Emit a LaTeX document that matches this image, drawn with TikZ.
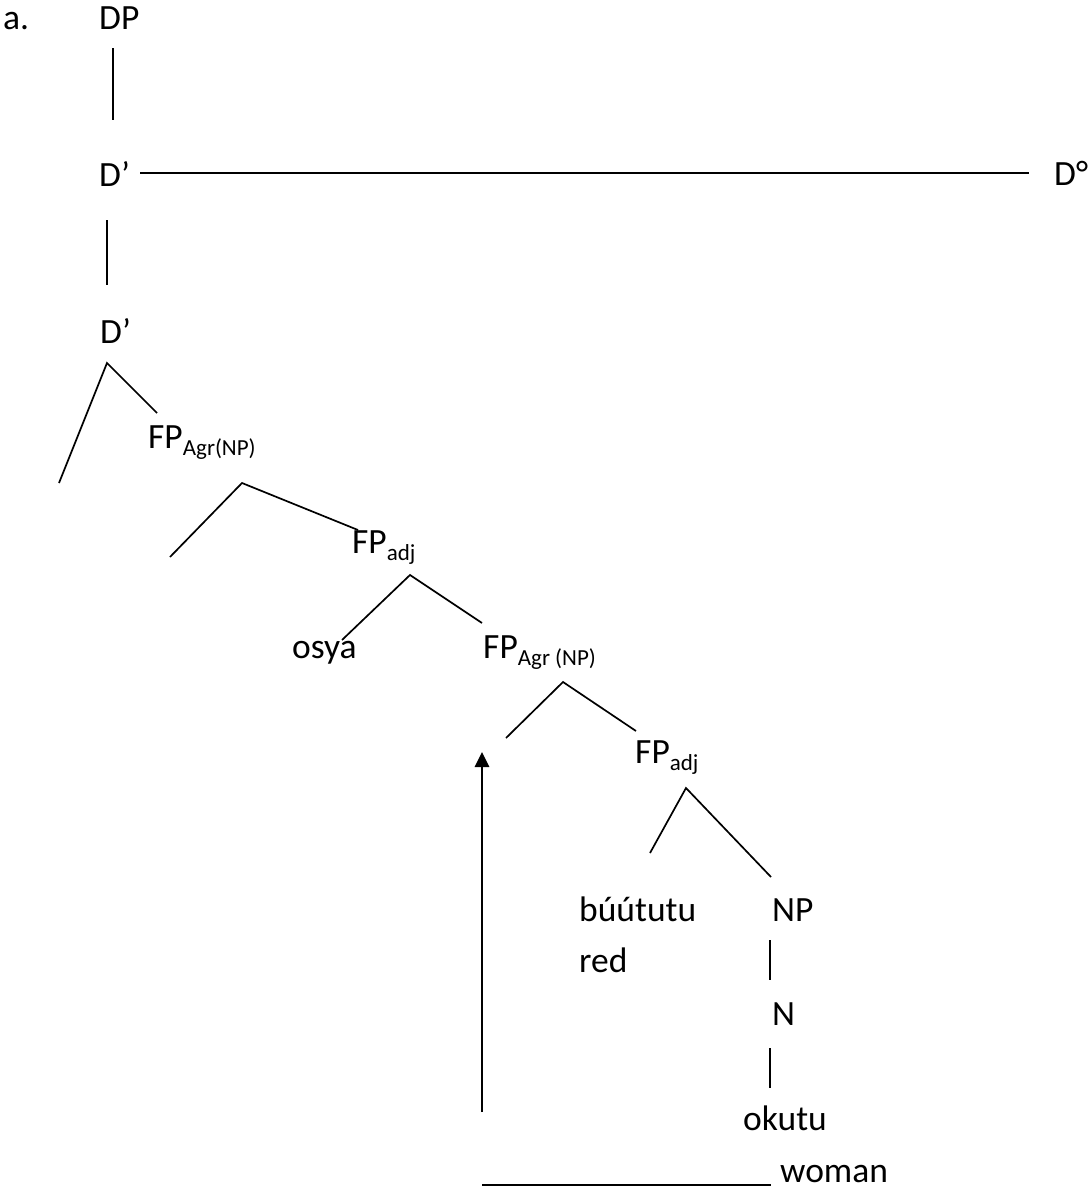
\documentclass[tikz,border=0pt]{standalone}
\usepackage{fontspec}
\setmainfont{Carlito}
\usetikzlibrary{arrows.meta}
\newcommand{\sbs}[1]{\raisebox{-7pt}{\fontsize{23}{23}\selectfont #1}}
\begin{document}
\begin{tikzpicture}[x=1pt,y=-1pt,
  lbl/.style={anchor=base west, inner sep=0pt, font=\fontsize{35.5}{40}\selectfont},
  br/.style={line width=1.7pt},
  mv/.style={line width=2.8pt, -{Triangle[length=15pt,width=14pt]}}]
\useasboundingbox (0,0) rectangle (1091,1191);
% labels
\node[lbl] (ex) at (3,29) {a.};
\node[lbl] (dp) at (99,29) {DP};
\node[lbl] (dbar1) at (99,186) {D’};
\node[lbl] (dzero) at (1054,185) {D°};
\node[lbl] (dbar2) at (100,343) {D’};
\node[lbl] (fpagr1) at (148,448) {FP\sbs{Agr(NP)}};
\node[lbl] (fpadj1) at (352,553) {FP\sbs{adj}};
\node[lbl] (osya) at (292,658) {osya};
\node[lbl] (fpagr2) at (483,658) {FP\sbs{Agr (NP)}};
\node[lbl] (fpadj2) at (635,763) {FP\sbs{adj}};
\node[lbl] (buututu) at (579,921) {búútutu};
\node[lbl] (red) at (579,972) {red};
\node[lbl] (np) at (772,921) {NP};
\node[lbl] (n) at (772,1025) {N};
\node[lbl] (okutu) at (743,1130) {okutu};
\node[lbl] (woman) at (780,1182) {woman};
% coordinates
\coordinate (v1a) at (113,48); \coordinate (v1b) at (113,120);
\coordinate (h1a) at (140,173); \coordinate (h1b) at (1029,173);
\coordinate (v2a) at (107,220); \coordinate (v2b) at (107,285);
\coordinate (a1) at (107,363); \coordinate (l1) at (59,483); \coordinate (r1) at (157,413);
\coordinate (a2) at (242,483); \coordinate (l2) at (170,557); \coordinate (r2) at (358,530);
\coordinate (a3) at (410,575); \coordinate (l3) at (342,640); \coordinate (r3) at (482,623);
\coordinate (a4) at (563,682); \coordinate (l4) at (506,738); \coordinate (r4) at (636,731);
\coordinate (a5) at (686,788); \coordinate (l5) at (650,853); \coordinate (r5) at (771,877);
\coordinate (v3a) at (770,940); \coordinate (v3b) at (770,980);
\coordinate (v4a) at (770,1048); \coordinate (v4b) at (770,1088);
\coordinate (arrA) at (482,1112); \coordinate (arrB) at (482,752);
\coordinate (ulA) at (482,1185); \coordinate (ulB) at (771,1185);
% connectors
\draw[br] (v1a) -- (v1b);
\draw[br] (h1a) -- (h1b);
\draw[br] (v2a) -- (v2b);
\draw[br] (l1) -- (a1) -- (r1);
\draw[br] (l2) -- (a2) -- (r2);
\draw[br] (l3) -- (a3) -- (r3);
\draw[br] (l4) -- (a4) -- (r4);
\draw[br] (l5) -- (a5) -- (r5);
\draw[br] (v3a) -- (v3b);
\draw[br] (v4a) -- (v4b);
\draw[mv] (arrA) -- (arrB);
\draw[br] (ulA) -- (ulB);
\end{tikzpicture}
\end{document}
